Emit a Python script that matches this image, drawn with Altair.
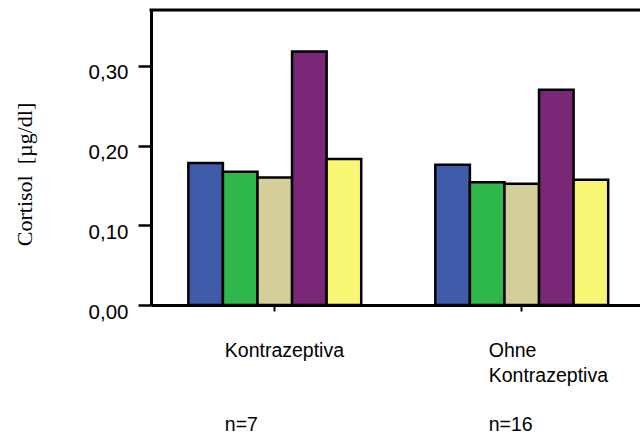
import altair as alt
import pandas as pd

# Groups along the x axis and the five measurements drawn in each group
groups = ["Kontrazeptiva", "Ohne Kontrazeptiva"]
group_lines = ["Kontrazeptiva", "Ohne\nKontrazeptiva"]
group_n = ["n=7", "n=16"]
series = ["Messung 1", "Messung 2", "Messung 3", "Messung 4", "Messung 5"]
values_kontrazeptiva = [0.178, 0.167, 0.160, 0.318, 0.183]
values_ohne = [0.176, 0.154, 0.152, 0.270, 0.157]
colors = ["#3F5BAA", "#2EB84B", "#D4CE99", "#7A2777", "#F9F674"]
y_ticks = [0.0, 0.1, 0.2, 0.3]

W, H = 489, 295

rows = []
for g, vals in zip(groups, [values_kontrazeptiva, values_ohne]):
    for s, v in zip(series, vals):
        rows.append({"gruppe": g, "serie": s, "wert": v})
bars_df = pd.DataFrame(rows)

labels_df = pd.DataFrame({"gruppe": groups, "text": group_lines, "n": group_n})

x_enc = alt.X(
    "gruppe:N",
    sort=groups,
    scale=alt.Scale(paddingInner=0.3, paddingOuter=0.14, align=0.54),
    axis=alt.Axis(
        labels=False, title=None, grid=False,
        domainColor="black", domainWidth=3,
        tickColor="black", tickWidth=2, tickSize=6,
    ),
)

bars = alt.Chart(bars_df).mark_bar(stroke="black", strokeWidth=2.5).encode(
    x=x_enc,
    xOffset=alt.XOffset("serie:N", sort=series,
                        scale=alt.Scale(paddingInner=0, paddingOuter=0)),
    y=alt.Y(
        "wert:Q",
        scale=alt.Scale(domain=[0, 0.37], nice=False),
        axis=alt.Axis(
            values=y_ticks,
            labelExpr="replace(format(datum.value, '.2f'), '.', ',')",
            grid=False,
            domainColor="black", domainWidth=3,
            tickColor="black", tickWidth=2.5, tickSize=13,
            labelFont="Liberation Sans", labelFontSize=20.5, labelColor="black",
            labelPadding=10, labelBaseline="alphabetic", labelOffset=13,
            title="Cortisol\u2002[µg/dl]",
            titleFont="Liberation Serif", titleFontSize=22,
            titleFontWeight="normal", titleColor="black",
            titleAngle=-90, titleAlign="center", titleBaseline="alphabetic",
            titleX=-120, titleY=164,
        ),
    ),
    color=alt.Color("serie:N", scale=alt.Scale(domain=series, range=colors),
                    legend=None),
)

# Upper frame line
frame_top = alt.Chart(pd.DataFrame({"k": [0]})).mark_rule(
    color="black", strokeWidth=3
).encode(x=alt.value(-1.5), x2=alt.value(W), y=alt.value(0))

text_style = dict(align="left", baseline="alphabetic", font="Liberation Sans",
                  fontSize=19.5, color="black", lineBreak="\n", lineHeight=25)


def group_text(idx, dx):
    base = alt.Chart(labels_df).transform_filter(
        alt.datum.gruppe == groups[idx]
    )
    name = base.mark_text(dx=dx, **text_style).encode(
        x=x_enc, y=alt.value(347), text="text:N"
    )
    count = base.mark_text(dx=dx, **text_style).encode(
        x=x_enc, y=alt.value(421), text="n:N"
    )
    return name + count


chart = alt.layer(
    bars, frame_top, group_text(0, -50), group_text(1, -33)
).properties(
    width=W, height=H,
    autosize=alt.AutoSizeParams(type="none"),
    padding={"left": 151, "top": 10, "right": 0, "bottom": 134},
).configure_view(stroke=None).configure(background="white")

chart.save("out.html", embed_options={"renderer": "svg", "actions": False})
